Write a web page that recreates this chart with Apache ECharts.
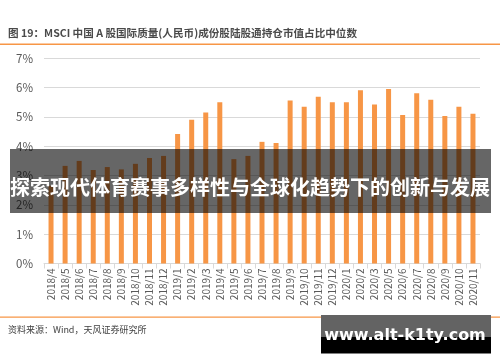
<!DOCTYPE html>
<html>
<head>
<meta charset="utf-8">
<script src="https://cdn.jsdelivr.net/npm/echarts@6/dist/echarts.min.js"></script>
<style>
html,body{margin:0;padding:0;background:#fff;}
#c{width:500px;height:362px;}
</style>
</head>
<body>
<div id="c"></div>
<script>
var categories = ['2018/4','2018/5','2018/6','2018/7','2018/8','2018/9','2018/10','2018/11','2018/12',
  '2019/1','2019/2','2019/3','2019/4','2019/5','2019/6','2019/7','2019/8','2019/9','2019/10','2019/11','2019/12',
  '2020/1','2020/2','2020/3','2020/5','2020/6','2020/7','2020/8','2020/9','2020/10','2020/11'];
var values = [2.65,3.33,3.50,3.19,3.29,3.21,3.40,3.60,3.67,
  4.42,4.90,5.15,5.50,3.56,3.67,4.15,4.11,5.56,5.35,5.69,5.50,
  5.50,5.91,5.42,5.95,5.07,5.81,5.59,5.03,5.35,5.11];
var yTicks = [0,1,2,3,4,5,6,7];
var titleText = '图 19：MSCI 中国 A 股国际质量(人民币)成份股陆股通持仓市值占比中位数';
var sourceText = '资料来源：Wind，天风证券研究所';
var bannerText = '探索现代体育赛事多样性与全球化趋势下的创新与发展';
var watermarkText = 'www.alt-k1ty.com';

var FONT = '"Noto Sans CJK SC", "Noto Sans", sans-serif';
var chart = echarts.init(document.getElementById('c'), null, {renderer:'canvas'});
chart.setOption({
  animation:false,
  backgroundColor:'#fff',
  grid:{left:44, right:20, top:58.3, bottom:98.5},
  xAxis:{
    type:'category', data:categories,
    axisLine:{lineStyle:{color:'#d9d9d9'}},
    axisTick:{show:true, length:5, lineStyle:{color:'#d9d9d9'}},
    axisLabel:{rotate:90, fontSize:10, color:'#595959', margin:5, fontFamily:FONT, interval:0}
  },
  yAxis:{
    type:'value', min:yTicks[0], max:yTicks[yTicks.length-1], interval:1,
    axisLine:{show:false}, axisTick:{show:false},
    splitLine:{lineStyle:{color:'#d9d9d9'}},
    axisLabel:{formatter:'{value}%', fontSize:11.5, color:'#595959', margin:11, fontFamily:FONT}
  },
  series:[{
    type:'bar', data:values, barWidth:5,
    itemStyle:{color:'#F79646'}
  }],
  graphic:[
    {type:'text', left:8, top:27.5, style:{text:titleText, fill:'#4a4a4a', font:'bold 10.6px '+FONT}},
    {type:'rect', shape:{x:0, y:43.5, width:500, height:1.5}, style:{fill:'#F79646'}},
    {type:'rect', shape:{x:0, y:316.5, width:500, height:1.2}, style:{fill:'#F79646'}},
    {type:'text', left:8, top:325, style:{text:sourceText, font:'9px '+FONT, fill:'#404040'}},
    {type:'rect', z:100, shape:{x:10, y:149, width:481, height:64}, style:{fill:'rgba(0,0,0,0.6)'}},
    {type:'text', z:101, x:250, y:187, style:{text:bannerText, font:'bold 20px '+FONT, fill:'#fff', textAlign:'center', textVerticalAlign:'middle'}},
    {type:'rect', z:100, shape:{x:321, y:315, width:170, height:22}, style:{fill:'#636363'}},
    {type:'rect', z:100, shape:{x:321, y:337, width:170, height:16.5}, style:{fill:'#000'}},
    {type:'text', z:101, x:405, y:336, style:{text:watermarkText, font:'bold 16px "DejaVu Sans", sans-serif', fill:'#fff', textAlign:'center', textVerticalAlign:'middle'}}
  ]
});
</script>
</body>
</html>
